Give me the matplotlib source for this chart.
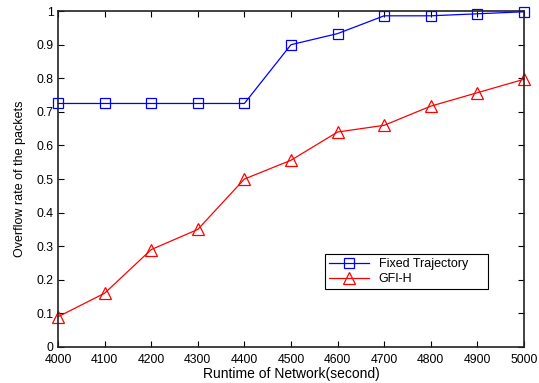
import matplotlib
matplotlib.use('Agg')
import matplotlib.pyplot as plt

plt.rcParams['font.family'] = ['Liberation Sans', 'DejaVu Sans']

runtime = [4000, 4100, 4200, 4300, 4400, 4500, 4600, 4700, 4800, 4900, 5000]
fixed_traj = [0.725, 0.725, 0.725, 0.725, 0.725, 0.90, 0.933, 0.986, 0.986, 0.992, 0.998]
gfi_h = [0.09, 0.16, 0.29, 0.35, 0.50, 0.556, 0.64, 0.66, 0.717, 0.757, 0.797]

fig = plt.figure(figsize=(5.39, 3.83), dpi=100)
ax = fig.add_axes([0.1076, 0.094, 0.8644, 0.877])

ax.plot(runtime, fixed_traj, color='#0000ff', lw=0.9, marker='s', ms=7,
        mfc='none', mec='#0000ff', mew=0.9, label='Fixed Trajectory', clip_on=False)
ax.plot(runtime, gfi_h, color='#ff0000', lw=0.9, marker='^', ms=8,
        mfc='none', mec='#ff0000', mew=0.9, label='GFI-H', clip_on=False)

ax.set_xlim(4000, 5000)
ax.set_ylim(0, 1)
ax.set_xticks(range(4000, 5001, 100))
ax.set_yticks([i / 10 for i in range(11)])
ax.set_yticklabels(['0', '0.1', '0.2', '0.3', '0.4', '0.5', '0.6', '0.7', '0.8', '0.9', '1'])
ax.tick_params(direction='in', top=True, right=True, labelsize=8.8, length=4, width=0.8)
ax.tick_params(axis='x', pad=5)
ax.tick_params(axis='y', pad=3)
for s in ax.spines.values():
    s.set_linewidth(1.2)
    s.set_color('#222222')

ax.set_xlabel('Runtime of Network(second)', fontsize=10, labelpad=1)
ax.set_ylabel('Overflow rate of the packets', fontsize=9, labelpad=8)

leg = ax.legend(loc='lower left', bbox_to_anchor=(0.573, 0.173, 0.35, 0.125), mode='expand',
                fontsize=9, fancybox=False, framealpha=1, edgecolor='black',
                borderpad=0.3, handlelength=3.2, labelspacing=0.25, borderaxespad=0)
leg.get_frame().set_linewidth(0.8)

fig.savefig('out.png', dpi=100)
